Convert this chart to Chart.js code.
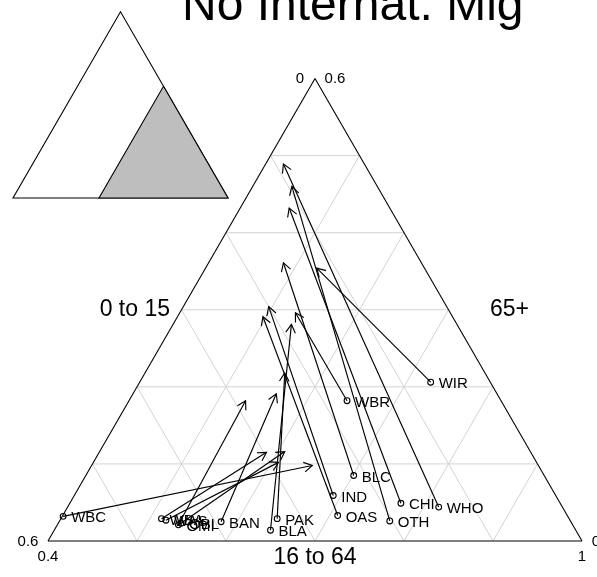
<!DOCTYPE html>
<html>
<head>
<meta charset="utf-8">
<script src="https://cdn.jsdelivr.net/npm/chart.js@4.4.1/dist/chart.umd.min.js"></script>
<style>
  html, body { margin: 0; padding: 0; background: #fff; }
  #wrap { width: 597px; height: 577px; }
</style>
</head>
<body>
<div id="wrap"><canvas id="chart" width="597" height="577"></canvas></div>
<script>
// Ethnic groups, age shares (%) 2001 -> projection without international migration
const groups   = ['WBR', 'WIR', 'WHO', 'WBC', 'WBA', 'WAS', 'OMI', 'IND', 'PAK', 'BAN', 'OAS', 'BLC', 'BLA', 'OBL', 'CHI', 'OTH'];
const young0   = [17.3, 6.7, 13.9, 56.7, 45.8, 45.4, 44.3, 25.0, 32.8, 39.3, 25.8, 21.4, 34.3, 43.9, 17.9, 20.3];
const old0     = [18.2, 20.6, 4.4, 3.2, 2.9, 2.7, 2.1, 5.9, 2.9, 2.5, 3.3, 8.5, 1.4, 2.3, 4.9, 2.6];
const young1   = [17.4, 12.1, 9.1, 25.4, 29.7, 29.0, 28.7, 20.0, 22.5, 24.8, 21.3, 15.5, 18.6, 27.6, 11.3, 9.6];
const old1     = [29.6, 35.4, 48.9, 9.8, 11.5, 10.2, 18.2, 30.4, 21.8, 19.1, 29.1, 36.1, 28.1, 11.6, 43.2, 46.0];

// Ternary window: 0 to 15 in [0, 60], 16 to 64 in [40, 100], 65+ in [0, 60]
const RANGE = 60;
const SQ = Math.sqrt(3) / 2;
const FONT = "'Liberation Sans', Arial, Helvetica, sans-serif";

/** (young, old) in % -> cartesian coords of the zoomed triangle */
function toXY(young, old) {
  const a = young / RANGE;
  const c = old / RANGE;
  return { x: 1 - a - c + c / 2, y: c * SQ };
}

const startPts = groups.map((g, i) => toXY(young0[i], old0[i]));
const endPts   = groups.map((g, i) => toXY(young1[i], old1[i]));

// ============================================================
// PLUGIN: ternary frame, grid, arrows, labels
// ============================================================
const ternaryPlugin = {
  id: 'ternary',
  beforeDatasetsDraw(chart) {
    const { ctx, scales: { x, y } } = chart;
    const px = p => [x.getPixelForValue(p.x), y.getPixelForValue(p.y)];
    const seg = (p, q) => {
      const [x1, y1] = px(p), [x2, y2] = px(q);
      ctx.beginPath(); ctx.moveTo(x1, y1); ctx.lineTo(x2, y2); ctx.stroke();
    };

    ctx.save();
    // grid
    ctx.strokeStyle = '#D3D3D3';
    ctx.lineWidth = 1;
    for (let k = 1; k < 6; k++) {
      const t = k / 6 * RANGE;
      seg(toXY(RANGE - t, t), toXY(0, t));          // constant 65+
      seg(toXY(t, 0), toXY(t, RANGE - t));          // constant 0 to 15
      seg(toXY(RANGE - t, 0), toXY(0, RANGE - t));  // constant 16 to 64
    }
    // frame
    ctx.strokeStyle = '#000';
    ctx.lineWidth = 1.1;
    const bl = toXY(RANGE, 0), br = toXY(0, 0), tp = toXY(0, RANGE);
    seg(bl, br); seg(br, tp); seg(tp, bl);

    // arrows
    ctx.lineWidth = 1.15;
    startPts.forEach((s, i) => {
      const [x1, y1] = px(s), [x2, y2] = px(endPts[i]);
      ctx.beginPath(); ctx.moveTo(x1, y1); ctx.lineTo(x2, y2); ctx.stroke();
      const ang = Math.atan2(y2 - y1, x2 - x1);
      const len = 9.6, spread = Math.PI / 6;
      ctx.beginPath();
      ctx.moveTo(x2 - len * Math.cos(ang - spread), y2 - len * Math.sin(ang - spread));
      ctx.lineTo(x2, y2);
      ctx.lineTo(x2 - len * Math.cos(ang + spread), y2 - len * Math.sin(ang + spread));
      ctx.stroke();
    });
    ctx.restore();
  },
  afterDatasetsDraw(chart) {
    const { ctx, scales: { x, y } } = chart;
    ctx.save();
    ctx.fillStyle = '#000';

    // point labels
    ctx.font = `15px ${FONT}`;
    ctx.textAlign = 'left';
    ctx.textBaseline = 'middle';
    startPts.forEach((s, i) => {
      ctx.fillText(groups[i], x.getPixelForValue(s.x) + 8, y.getPixelForValue(s.y) + 2);
    });

    // corner tick labels
    const [blx, bly] = [x.getPixelForValue(0), y.getPixelForValue(0)];
    const [brx] = [x.getPixelForValue(1)];
    const [tpx, tpy] = [x.getPixelForValue(0.5), y.getPixelForValue(SQ)];
    ctx.textAlign = 'center';
    ctx.fillText('0.6', blx - 20, bly + 1);
    ctx.fillText('0.4', blx, bly + 16);
    ctx.fillText('0', tpx - 15, tpy);
    ctx.fillText('0.6', tpx + 20, tpy);
    ctx.fillText('1', brx, bly + 16);
    ctx.fillText('0', brx + 14, bly + 1);

    // axis titles
    ctx.font = `23px ${FONT}`;
    ctx.textAlign = 'right';
    ctx.fillText('0 to 15', blx + 122, bly - 231);
    ctx.textAlign = 'left';
    ctx.fillText('65+', blx + 442, bly - 231);
    ctx.textAlign = 'center';
    ctx.fillText('16 to 64', tpx, bly + 17);

    // title (clipped at the top)
    ctx.font = `48px ${FONT}`;
    ctx.textAlign = 'left';
    ctx.textBaseline = 'alphabetic';
    ctx.fillText('No Internat. Mig', 182, 20);

    // locator inset: full triangle with the plotted window shaded
    const ox = 13, oy = 198, side = 215;
    const ip = (a, c) => [ox + (1 - a - c + c / 2) * side, oy - c * SQ * side];
    ctx.lineWidth = 1.1;
    ctx.strokeStyle = '#000';
    let v = [ip(1, 0), ip(0, 0), ip(0, 1)];
    ctx.beginPath(); ctx.moveTo(...v[0]); ctx.lineTo(...v[1]); ctx.lineTo(...v[2]); ctx.closePath(); ctx.stroke();
    const w = RANGE / 100;
    v = [ip(w, 0), ip(0, 0), ip(0, w)];
    ctx.fillStyle = '#BEBEBE';
    ctx.beginPath(); ctx.moveTo(...v[0]); ctx.lineTo(...v[1]); ctx.lineTo(...v[2]); ctx.closePath();
    ctx.fill(); ctx.stroke();

    ctx.restore();
  },
};

new Chart(document.getElementById('chart'), {
  type: 'scatter',
  data: {
    datasets: [{
      label: '2001',
      data: startPts,
      pointStyle: 'circle',
      pointRadius: 2.9,
      pointBorderWidth: 1.1,
      pointBorderColor: '#000',
      pointBackgroundColor: 'rgba(0,0,0,0)',
    }],
  },
  options: {
    responsive: false,
    animation: false,
    layout: { padding: { left: 48, right: 15, top: 78.5, bottom: 36 } },
    plugins: { legend: { display: false }, tooltip: { enabled: false } },
    scales: {
      x: { type: 'linear', min: 0, max: 1, display: false },
      y: { type: 'linear', min: 0, max: SQ, display: false },
    },
  },
  plugins: [ternaryPlugin],
});
</script>
</body>
</html>
